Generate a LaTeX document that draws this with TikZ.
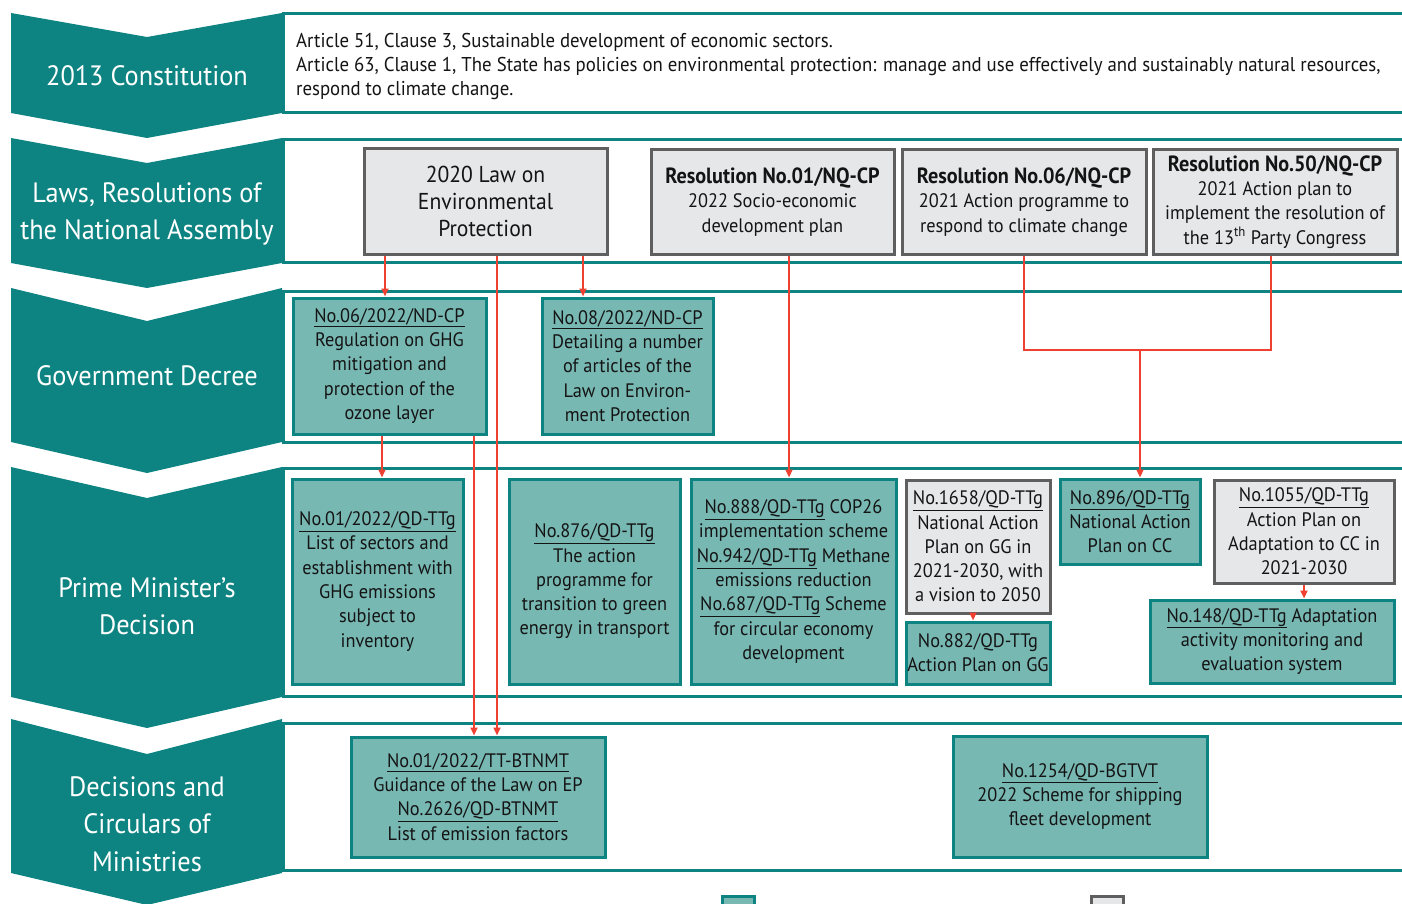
\documentclass[tikz,border=0pt]{standalone}
\usepackage{fontspec}
\setmainfont{PT Sans}[FakeStretch=0.94]
\newfontfamily\titlefont{PT Sans Bold}[FakeStretch=0.92]
\usetikzlibrary{arrows.meta}
\definecolor{tealdk}{HTML}{0E8482}
\definecolor{teallt}{HTML}{78B8B3}
\definecolor{grayfill}{HTML}{E6E7E8}
\definecolor{grayline}{HTML}{5F5F5F}
\definecolor{redln}{HTML}{EE4132}
\tikzset{
  chev/.style={fill=tealdk, draw=none},
  chevtext/.style={text=white, font=\fontsize{28}{37.5}\selectfont, align=center, inner sep=0pt},
  band/.style={draw=tealdk, line width=3pt, fill=white},
  tbox/.style={draw=tealdk, fill=teallt, line width=3pt, align=center, inner sep=1pt, text=black!92,
    font=\fontsize{19.5}{24.3}\selectfont},
  gbox/.style={draw=grayline, fill=grayfill, line width=3pt, align=center, inner sep=1pt, text=black!92,
    font=\fontsize{19.5}{24.3}\selectfont},
  arr/.style={draw=redln, line width=2pt, -{Triangle[length=8pt,width=7pt]}},
  ln/.style={draw=redln, line width=2pt},
  bodytext/.style={align=left, anchor=north west, inner sep=0pt, text=black!92,
    font=\fontsize{20}{24}\selectfont},
}
\newcommand{\ttl}[1]{{\titlefont\fontsize{22}{25}\selectfont #1}}
\begin{document}
\begin{tikzpicture}[x=1pt,y=-1pt]
\useasboundingbox (0,0) rectangle (1402,904);
\clip (0,0) rectangle (1402,904);

% ---- chevrons
\fill[chev] (11,13) -- (147,37) -- (282,13) -- (282,113) -- (147,138) -- (11,113) -- cycle;
\fill[chev] (11,138) -- (147,163) -- (282,138) -- (282,263) -- (147,288) -- (11,263) -- cycle;
\fill[chev] (11,288) -- (147,321) -- (282,288) -- (282,442) -- (147,473) -- (11,442) -- cycle;
\fill[chev] (11,467) -- (147,498) -- (282,467) -- (282,697) -- (147,728) -- (11,697) -- cycle;
\fill[chev] (11,719) -- (147,754) -- (282,719) -- (282,873) -- (147,905) -- (11,873) -- cycle;

\node[chevtext] (c1) at (147,76) {2013 Constitution};
\node[chevtext] (c2) at (147,214) {Laws, Resolutions of\\the National Assembly};
\node[chevtext] (c3) at (147,376) {Government Decree};
\node[chevtext] (c4) at (147,606) {Prime Minister’s\\Decision};
\node[chevtext] (c5) at (147,824) {Decisions and\\Circulars of\\Ministries};

% ---- bands
\draw[band] (1412,14) -- (283,14) -- (283,113) -- (1412,113);
\draw[band] (1412,140) -- (283,140) -- (283,262) -- (1412,262);
\draw[band] (1412,291) -- (283,291) -- (283,442) -- (1412,442);
\draw[band] (1412,468) -- (283,468) -- (283,696) -- (1412,696);
\draw[band] (1412,723) -- (283,723) -- (283,870) -- (1412,870);

\node[bodytext] (art) at (296,33) {Article 51, Clause 3, Sustainable development of economic sectors.\\
Article 63, Clause 1, The State has policies on environmental protection: manage and use effectively and sustainably natural resources,\\
respond to climate change.};

% ---- row 2 (laws / resolutions)
\node[gbox, minimum width=243, minimum height=105, font=\fontsize{23}{27}\selectfont] (law) at (485.5,201.5)
  {2020 Law on\\Environmental\\Protection};
\node[gbox, minimum width=243, minimum height=105] (res01) at (772.5,202)
  {\ttl{Resolution No.01/NQ-CP}\\2022 Socio-economic\\development plan};
\node[gbox, minimum width=244, minimum height=105] (res06) at (1024,202)
  {\ttl{Resolution No.06/NQ-CP}\\2021 Action programme to\\respond to climate change};
\node[gbox, minimum width=244, minimum height=105] (res50) at (1275,202)
  {\ttl{Resolution No.50/NQ-CP}\\2021 Action plan to\\implement the resolution of\\the 13\textsuperscript{th} Party Congress};

% ---- row 3 (decrees)
\node[tbox, minimum width=193, minimum height=136] (nd06) at (389.5,366)
  {\underline{No.06/2022/ND-CP}\\Regulation on GHG\\mitigation and\\protection of the\\ozone layer};
\node[tbox, minimum width=171, minimum height=136] (nd08) at (627.5,366)
  {\underline{No.08/2022/ND-CP}\\Detailing a number\\of articles of the\\Law on Environ-\\ment Protection};

% ---- row 4 (PM decisions)
\node[tbox, minimum width=171, minimum height=205] (qd01) at (377.5,581.5)
  {\underline{No.01/2022/QD-TTg}\\List of sectors and\\establishment with\\GHG emissions\\subject to\\inventory};
\node[tbox, minimum width=171, minimum height=205] (qd876) at (594.5,581.5)
  {\underline{No.876/QD-TTg}\\The action\\programme for\\transition to green\\energy in transport};
\node[tbox, minimum width=205, minimum height=205] (qd888) at (793.5,581.5)
  {\underline{No.888/QD-TTg} COP26\\implementation scheme\\\underline{No.942/QD-TTg} Methane\\emissions reduction\\\underline{No.687/QD-TTg} Scheme\\for circular economy\\development};
\node[gbox, minimum width=144, minimum height=133] (qd1658) at (978,546.5)
  {\underline{No.1658/QD-TTg}\\National Action\\Plan on GG in\\2021-2030, with\\a vision to 2050};
\node[tbox, minimum width=144, minimum height=62] (qd882) at (978,653)
  {No.882/QD-TTg\\Action Plan on GG};
\node[tbox, minimum width=140, minimum height=85] (qd896) at (1130,521.5)
  {\underline{No.896/QD-TTg}\\National Action\\Plan on CC};
\node[gbox, minimum width=180, minimum height=103] (qd1055) at (1304,531.5)
  {\underline{No.1055/QD-TTg}\\Action Plan on\\Adaptation to CC in\\2021-2030};
\node[tbox, minimum width=244, minimum height=83] (qd148) at (1272,641.5)
  {\underline{No.148/QD-TTg} Adaptation\\activity monitoring and\\evaluation system};

% ---- row 5 (ministries)
\node[tbox, minimum width=254, minimum height=120] (tt01) at (478,797)
  {\underline{No.01/2022/TT-BTNMT}\\Guidance of the Law on EP\\\underline{No.2626/QD-BTNMT}\\List of emission factors};
\node[tbox, minimum width=254, minimum height=121] (qd1254) at (1080,796.5)
  {\underline{No.1254/QD-BGTVT}\\2022 Scheme for shipping\\fleet development};

% ---- legend squares (cut by the lower edge)
\node[tbox, minimum width=32, minimum height=32, anchor=north west] (legt) at (721,895) {};
\node[gbox, minimum width=32, minimum height=32, anchor=north west] (legg) at (1090,895) {};

% ---- connectors
\coordinate (x382) at (382,0);
\coordinate (x385) at (385,0);
\coordinate (x474) at (474,0);
\coordinate (x497) at (497,0);
\coordinate (x583) at (583,0);
\coordinate (x789) at (789,0);
\coordinate (x973) at (973,0);
\coordinate (x1271) at (1271,0);
\coordinate (junc) at (1140,350);

\draw[arr] (law.south -| x385) -- (nd06.north -| x385);
\draw[arr] (law.south -| x583) -- (nd08.north -| x583);
\draw[arr] (law.south -| x497) -- (tt01.north -| x497);
\draw[arr] (nd06.south -| x474) -- (tt01.north -| x474);
\draw[arr] (nd06.south -| x382) -- (qd01.north -| x382);
\draw[arr] (res01.south -| x789) -- (qd888.north -| x789);
\draw[ln] (res06.south) |- (junc) -| (res50.south -| x1271);
\draw[arr] (junc) -- (qd896.north -| junc);
\draw[arr] (qd1658.south -| x973) -- (qd882.north -| x973);
\draw[arr] (qd1055.south) -- (qd148.north -| qd1055.south);
\end{tikzpicture}
\end{document}
